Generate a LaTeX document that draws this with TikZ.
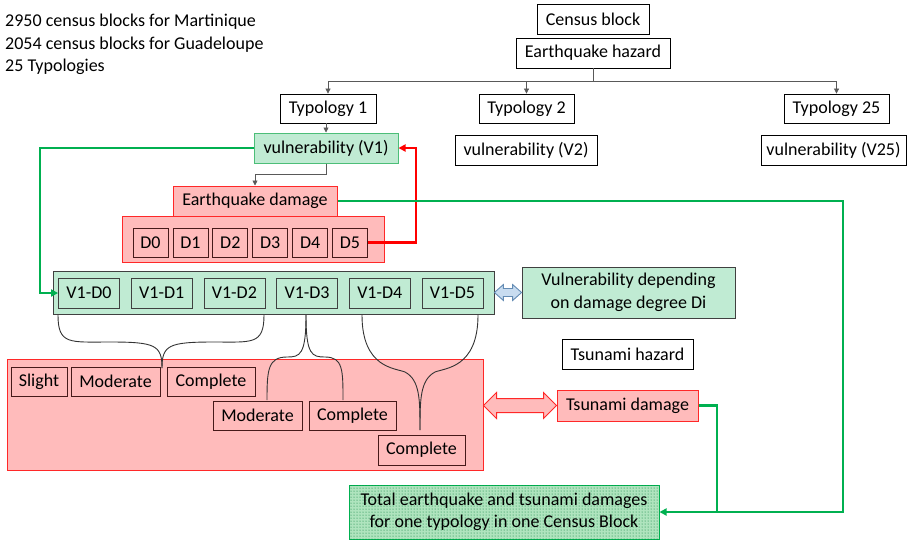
\documentclass[tikz,border=0pt]{standalone}
\usepackage{fontspec}
\setmainfont{Carlito}
\usetikzlibrary{arrows.meta,calc,patterns}
\definecolor{mint}{RGB}{192,235,211}
\definecolor{mintline}{RGB}{76,190,120}
\definecolor{pinkfill}{RGB}{255,187,187}
\definecolor{redline}{RGB}{255,40,40}
\definecolor{gline}{RGB}{0,176,80}
\definecolor{rline}{RGB}{255,0,0}
\definecolor{bfill}{RGB}{200,220,240}
\definecolor{bline}{RGB}{100,140,180}
\definecolor{darkbr}{RGB}{70,25,25}
\definecolor{totfill}{RGB}{175,228,190}
\begin{document}
\begin{tikzpicture}[x=1pt,y=-1pt,
  font=\fontsize{18}{22.5}\selectfont,
  box/.style={draw=black, line width=0.8pt, fill=white, inner sep=0pt, align=center},
  gbox/.style={box, fill=mint, draw=mintline, line width=1pt},
  gsub/.style={box, fill=mint, draw=black!75},
  rbox/.style={box, fill=pinkfill, draw=redline, line width=1pt},
  rsub/.style={box, fill=pinkfill, draw=darkbr},
  thin/.style={draw=black!65, line width=0.7pt, -{Triangle[length=5pt,width=5pt]}},
  thinline/.style={draw=black!65, line width=0.7pt},
  garrow/.style={draw=gline, line width=2.2pt, -{Triangle[length=7pt,width=7pt]}},
  gline/.style={draw=gline, line width=2.2pt},
  rarrow/.style={draw=rline, line width=2.6pt, -{Triangle[length=7pt,width=7pt]}},
  brace/.style={draw=black!80, line width=0.9pt}
]
\useasboundingbox (0,0) rectangle (917,542);

\node[anchor=north west, align=left, inner sep=0pt] (info) at (5,14)
  {2950 census blocks for Martinique\\2054 census blocks for Guadeloupe\\25 Typologies};

% top tree
\node[box, minimum width=112, minimum height=30] (cb) at (593,19) {Census block};
\node[box, minimum width=154, minimum height=30] (eh) at (593,53) {Earthquake hazard};
\node[box, minimum width=96, minimum height=29] (t1) at (328,108.5) {Typology 1};
\node[box, minimum width=95, minimum height=29] (t2) at (526.5,108.5) {Typology 2};
\node[box, minimum width=105, minimum height=29] (t25) at (836.5,108.5) {Typology 25};
\node[gbox, minimum width=144, minimum height=30] (v1) at (326,148) {vulnerability (V1)};
\node[box, minimum width=142, minimum height=30] (v2) at (526,150) {vulnerability (V2)};
\node[box, minimum width=145, minimum height=30] (v25) at (833.5,150) {vulnerability (V25)};

\coordinate (split) at (593,81);
\draw[thinline] (eh.south) -- (split);
\draw[thinline] (t1.north |- split) -- (t25.north |- split);
\draw[thin] (t1.north |- split) -- (t1.north);
\draw[thin] (t2.north |- split) -- (t2.north);
\draw[thin] (t25.north |- split) -- (t25.north);
\draw[thin] (t1.south -| v1.north) -- (v1.north);

% earthquake damage
\node[rbox, minimum width=262, minimum height=46] (dc) at (253,239) {};
\node[rbox, minimum width=164, minimum height=30] (ed) at (255,201) {Earthquake damage};
\foreach \i/\x in {0/150.5,1/190.4,2/230.3,3/270.2,4/310.1,5/350}{
  \node[rsub, minimum width=35, minimum height=29] (d\i) at (\x,242.5) {D\i};
}
\coordinate (v1k) at (326,174);
\draw[thin] (v1.south -| v1k) -- (v1k) -- (v1k -| ed.north) -- (ed.north);

% red feedback
\coordinate (rk) at (416,242.5);
\draw[rarrow] (d5.east) -- (rk) -- (rk |- v1.east) -- (v1.east);

% V1-D container
\node[gsub, minimum width=441, minimum height=43] (vc) at (273.5,292.5) {};
\foreach \i/\x in {0/89,1/161.7,2/234.4,3/307.1,4/379.8,5/452.5}{
  \node[gsub, minimum width=61, minimum height=30] (vd\i) at (\x,293) {V1-D\i};
}
\coordinate (gk) at (40,148);
\draw[garrow] (v1.west) -- (gk) -- (gk |- vd0.west) -- (vd0.west);

\node[gbox, draw=black!75, line width=0.8pt, minimum width=213, minimum height=51] (vdep) at (628.5,292.5)
  {Vulnerability depending\\on damage degree Di};
\draw[bline, fill=bfill, line width=0.9pt] (vc.east) -- ++(9,-8) -- ++(0,4) -- ($(vdep.west)+(-9,-4)$)
  -- ++(0,-4) -- (vdep.west) -- ++(-9,8) -- ++(0,-4) -- ($(vc.east)+(9,4)$) -- ++(0,4) -- cycle;

% tsunami part
\node[box, minimum width=131, minimum height=30] (th) at (627.5,354) {Tsunami hazard};
\node[rbox, minimum width=141, minimum height=31] (td) at (627.5,405.5) {Tsunami damage};

\node[rbox, minimum width=476, minimum height=111] (rc) at (245,414.5) {};
\node[rsub, minimum width=56, minimum height=29] (sl) at (39,381.5) {Slight};
\node[rsub, minimum width=89, minimum height=29] (mo1) at (115.5,381.5) {Moderate};
\node[rsub, minimum width=88, minimum height=29] (co1) at (211,381.5) {Complete};
\node[rsub, minimum width=89, minimum height=29] (mo2) at (257.5,415.5) {Moderate};
\node[rsub, minimum width=87, minimum height=29] (co2) at (352.5,415.5) {Complete};
\node[rsub, minimum width=87, minimum height=30] (co3) at (421.5,450) {Complete};

\coordinate (rA) at (rc.east |- td.west);
\draw[redline, fill=pinkfill, line width=1pt] (rA) -- ++(13,-13) -- ++(0,6) -- ($(td.west)+(-13,-7)$)
  -- ++(0,-6) -- (td.west) -- ++(-13,13) -- ++(0,-6) -- ($(rA)+(13,7)$) -- ++(0,6) -- cycle;

% braces
\draw[brace] (58,315) .. controls (58,345) and (70,342) .. (110,342)
  .. controls (155,342) and (162,345) .. (162,368);
\draw[brace] (264,315) .. controls (264,345) and (252,342) .. (214,342)
  .. controls (169,342) and (162,345) .. (162,368);
\draw[brace] (306,315) .. controls (306,355) and (300,357) .. (287,357)
  .. controls (268,357) and (267,370) .. (267,400);
\draw[brace] (306,315) .. controls (306,355) and (312,357) .. (325,357)
  .. controls (343,357) and (343,370) .. (343,400);
\draw[brace] (362,315) .. controls (362,368) and (395,368) .. (405,372)
  .. controls (420,380) and (420,400) .. (420,430);
\draw[brace] (478,315) .. controls (478,368) and (445,368) .. (435,372)
  .. controls (420,380) and (420,400) .. (420,430);

% total
\node[box, fill=totfill, draw=gline, line width=1pt, minimum width=310, minimum height=54,
  postaction={pattern=dots, pattern color=gline!70!black}] (tot) at (504,512) {};
\node[inner sep=0pt, align=center] (totl) at (tot.center) {Total earthquake and tsunami damages\\for one typology in one Census Block};

\coordinate (ek) at (843,201);
\draw[garrow] (ed.east) -- (ek) -- (ek |- tot.east) -- (tot.east);
\coordinate (tk) at (717,405.5);
\draw[gline] (td.east) -- (tk) -- (tk |- tot.east);
\end{tikzpicture}
\end{document}
